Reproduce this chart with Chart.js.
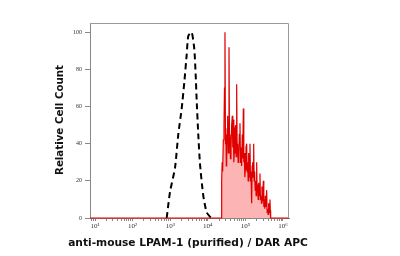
<!DOCTYPE html>
<html>
<head>
<meta charset="utf-8">
<script src="https://cdn.jsdelivr.net/npm/chart.js@4.4.1/dist/chart.umd.min.js"></script>
<style>
html,body{margin:0;padding:0;background:#fff;}
#wrap{width:400px;height:256px;position:relative;}
</style>
</head>
<body>
<div id="wrap"><canvas id="c" width="400" height="256"></canvas></div>
<script>
// Axis ticks
const xTickExp = [1, 2, 3, 4, 5, 6];
const xTickLabels = ['10¹', '10²', '10³', '10⁴', '10⁵', '10⁶'];
const yTickValues = [0, 20, 40, 60, 80, 100];
const xTitle = 'anti-mouse LPAM-1 (purified) / DAR APC';
const yTitle = 'Relative Cell Count';

// Control (black dashed), x in log10 units
const controlLog   = [2.907, 2.995, 3.128, 3.215, 3.306, 3.375, 3.439, 3.481, 3.572, 3.641, 3.678, 3.705, 3.747, 3.793, 3.880, 3.971, 4.085];
const controlCount = [0,     14,    27,    45,    59,    73,    88,    98,    100,   91,    77,    63,    45,    29,    12,    3,     0];

// Stained sample (red filled), x in log10 units
const stainedLog = [0.867, 4.365, 4.369, 4.382, 4.395, 4.413, 4.431, 4.444, 4.457, 4.470, 4.484, 4.493, 4.502, 4.515, 4.528, 4.546, 4.564, 4.577, 4.590, 4.603, 4.617, 4.635, 4.652, 4.665, 4.679, 4.692, 4.706, 4.723, 4.741, 4.755, 4.768, 4.781, 4.794, 4.808, 4.821, 4.838, 4.856, 4.870, 4.883, 4.900, 4.918, 4.931, 4.945, 4.958, 4.972, 4.985, 4.998, 5.016, 5.034, 5.047, 5.060, 5.074, 5.087, 5.105, 5.122, 5.136, 5.149, 5.167, 5.180, 5.193, 5.206, 5.220, 5.233, 5.246, 5.260, 5.273, 5.286, 5.300, 5.313, 5.326, 5.340, 5.353, 5.370, 5.388, 5.401, 5.415, 5.428, 5.441, 5.459, 5.477, 5.490, 5.504, 5.517, 5.530, 5.548, 5.566, 5.579, 5.592, 5.605, 5.619, 5.636, 5.654, 5.663, 5.672, 6.16];
const stainedCount = [0, 0, 20, 30, 25, 42, 50, 70, 100, 40, 45, 28, 30, 48, 55, 35, 92, 42, 45, 32, 38, 50, 55, 38, 53, 30, 35, 48, 50, 33, 72, 38, 40, 30, 31, 45, 51, 30, 38, 28, 45, 32, 59, 30, 35, 22, 26, 38, 40, 25, 30, 20, 35, 22, 40, 20, 25, 8, 28, 30, 22, 40, 20, 25, 15, 20, 12, 30, 14, 18, 10, 19, 12, 24, 10, 12, 8, 17, 9, 20, 6, 10, 5, 12, 6, 15, 3, 5, 2, 8, 3, 10, 4, 0, 0];

const toPts = (xs, ys) => xs.map((x, i) => ({x: x, y: ys[i]}));

const titlePlugin = {
  id: 'titles',
  afterDraw(chart) {
    const ctx = chart.ctx;
    const a = chart.chartArea;
    ctx.save();
    ctx.strokeStyle = '#9a9a9a';
    ctx.lineWidth = 1;
    ctx.beginPath();
    ctx.moveTo(a.left, a.top + 0.5);
    ctx.lineTo(a.right - 0.5, a.top + 0.5);
    ctx.lineTo(a.right - 0.5, a.bottom);
    ctx.stroke();
    ctx.fillStyle = '#111';
    let fs = 13;
    ctx.font = 'bold ' + fs + 'px "DejaVu Sans"';
    let w = ctx.measureText(xTitle).width;
    fs = fs * 240 / w;
    ctx.font = 'bold ' + fs.toFixed(2) + 'px "DejaVu Sans"';
    ctx.textAlign = 'center';
    ctx.textBaseline = 'middle';
    ctx.fillText(xTitle, 188, 243);
    fs = 11;
    ctx.font = 'bold ' + fs + 'px "DejaVu Sans"';
    w = ctx.measureText(yTitle).width;
    fs = fs * 110 / w;
    ctx.font = 'bold ' + fs.toFixed(2) + 'px "DejaVu Sans"';
    ctx.translate(60, 120);
    ctx.rotate(-Math.PI / 2);
    ctx.fillText(yTitle, 0, 0);
    ctx.restore();
  }
};

new Chart(document.getElementById('c'), {
  type: 'line',
  data: {
    datasets: [
      {
        data: toPts(stainedLog, stainedCount),
        borderColor: '#e00000',
        backgroundColor: 'rgba(250,130,130,0.6)',
        borderWidth: 1.2,
        fill: 'origin',
        pointRadius: 0,
        tension: 0,
        clip: 3
      },
      {
        data: toPts(controlLog, controlCount),
        borderColor: '#000',
        borderWidth: 2,
        borderDash: [6, 4],
        fill: false,
        pointRadius: 0,
        tension: 0.2,
        clip: 3
      }
    ]
  },
  plugins: [titlePlugin],
  options: {
    responsive: false,
    animation: false,
    events: [],
    layout: { padding: { left: 0, right: 111, top: 23, bottom: 0 } },
    plugins: { legend: { display: false }, tooltip: { enabled: false } },
    scales: {
      x: {
        type: 'linear',
        min: 0.867,
        max: 6.16,
        afterFit(s) { s.height = 38; },
        afterBuildTicks(s) {
          const t = [];
          for (let e = 0; e <= 6; e++) {
            for (let k = 1; k <= 9; k++) {
              const v = e + Math.log10(k);
              if (v >= s.min && v <= s.max) t.push({ value: v });
            }
          }
          s.ticks = t;
        },
        ticks: {
          autoSkip: false,
          maxRotation: 0,
          padding: 1,
          color: '#333',
          font: { family: '"Liberation Serif"', size: 7 },
          callback(v) {
            const i = xTickExp.findIndex(e => Math.abs(e - v) < 1e-6);
            return i >= 0 ? xTickLabels[i] : '';
          }
        },
        grid: { drawOnChartArea: false, tickLength: 3, color: '#888' },
        border: { color: '#888', width: 1 }
      },
      y: {
        min: 0,
        max: 105,
        afterFit(s) { s.width = 90; },
        afterBuildTicks(s) { s.ticks = yTickValues.map(v => ({ value: v })); },
        ticks: {
          padding: 3,
          color: '#333',
          font: { family: '"Liberation Serif"', size: 6 }
        },
        grid: { drawOnChartArea: false, tickLength: 5, color: '#888' },
        border: { color: '#888', width: 1 }
      }
    }
  }
});
</script>
</body>
</html>
